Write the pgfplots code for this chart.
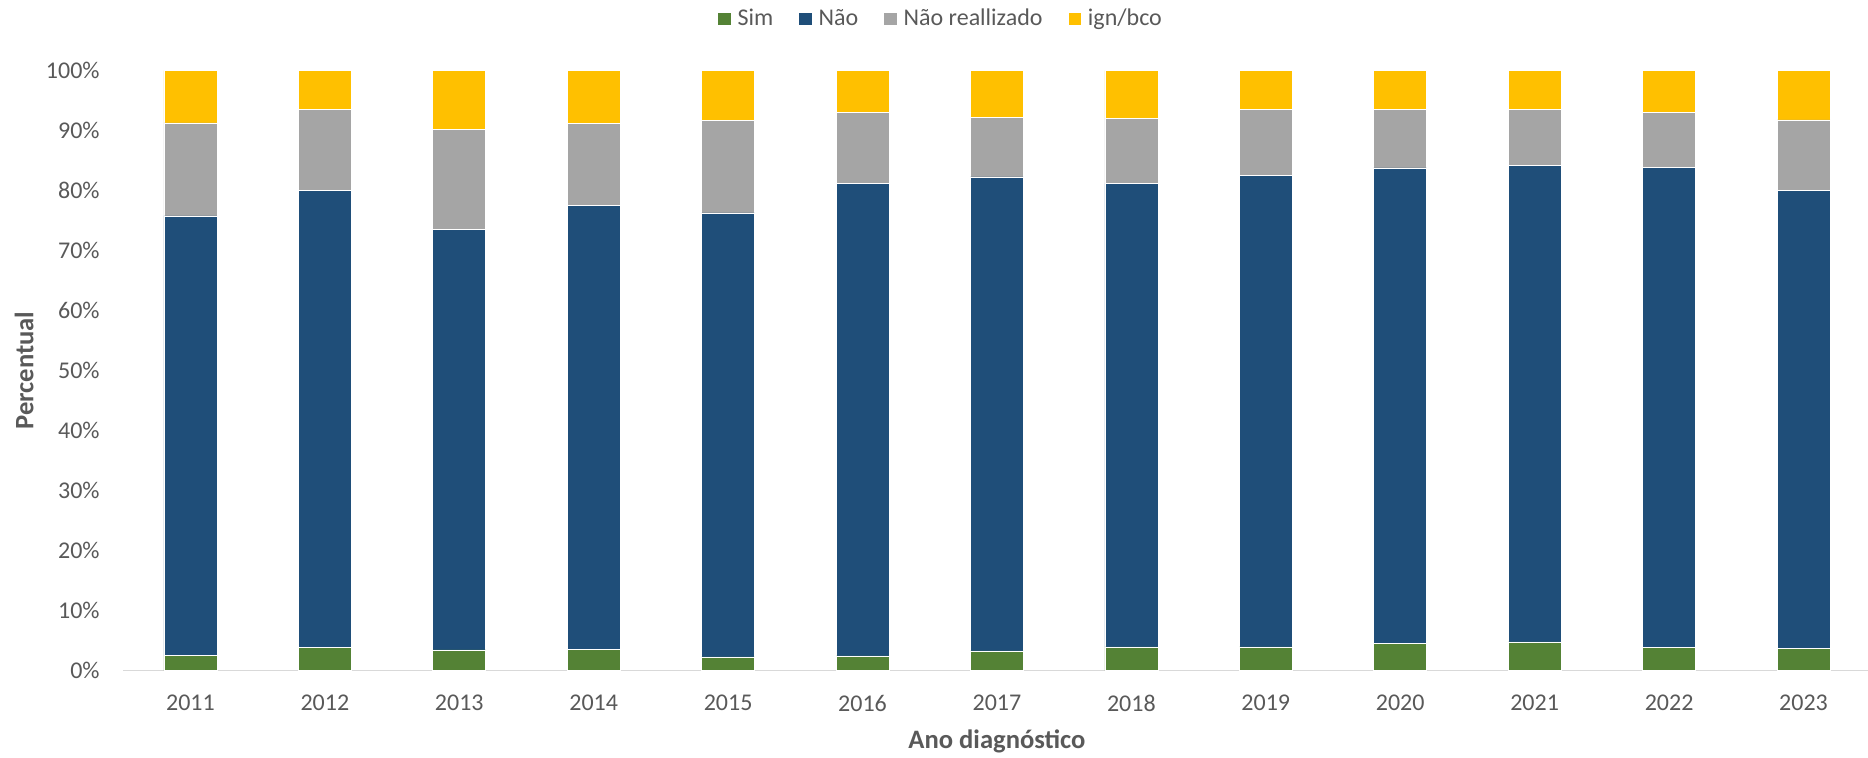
\documentclass[border=0pt]{standalone}
\usepackage{fontspec}
\setmainfont{Carlito}
\usepackage{pgfplots}
\pgfplotsset{compat=1.18}
\usepackage{pgfplotstable}
\definecolor{simc}{HTML}{548235}
\definecolor{naoc}{HTML}{1F4E79}
\definecolor{nrc}{HTML}{A5A5A5}
\definecolor{ignc}{HTML}{FFC000}
\definecolor{txt}{HTML}{595959}
\definecolor{axl}{HTML}{D9D9D9}
\pgfplotstableread{
x sim nao nr ign
0 2.6 73.2 15.5 8.7
1 3.9 76.1 13.6 6.4
2 3.45 70.05 16.7 9.8
3 3.55 73.95 13.7 8.8
4 2.3 74.0 15.4 8.3
5 2.45 78.75 11.9 6.9
6 3.3 79.0 9.9 7.8
7 3.95 77.25 10.9 7.9
8 3.95 78.55 11.1 6.4
9 4.6 79.2 9.7 6.5
10 4.8 79.4 9.4 6.4
11 3.9 80.0 9.1 7.0
12 3.7 76.3 11.8 8.2
}\data
\begin{document}
\begin{tikzpicture}
\begin{axis}[
  scale only axis, width=873.75pt, height=300pt,
  xmin=-0.5, xmax=12.5, ymin=0, ymax=100,
  ybar stacked, bar width=26.5pt,
  axis x line*=bottom, axis y line*=left,
  x axis line style={draw=axl, line width=0.8pt, -},
  y axis line style={draw=none},
  major tick length=0pt,
  xtick={0,...,12},
  xticklabels={2011,2012,2013,2014,2015,2016,2017,2018,2019,2020,2021,2022,2023},
  ytick={0,10,...,100},
  yticklabels={0\%,10\%,20\%,30\%,40\%,50\%,60\%,70\%,80\%,90\%,100\%},
  xticklabel style={font=\fontsize{12}{14}\selectfont, text=txt, inner sep=0pt, anchor=north, yshift=-12pt},
  yticklabel style={font=\fontsize{12}{14}\selectfont, text=txt, inner sep=0pt, anchor=east, xshift=-11.6pt},
  xlabel={Ano diagnóstico},
  ylabel={Percentual},
  xlabel style={font=\fontsize{13.3}{15}\selectfont\bfseries, text=txt, at={(axis description cs:0.5,-0.1173)}, anchor=center},
  ylabel style={font=\fontsize{13.3}{15}\selectfont\bfseries, text=txt, at={(axis description cs:-0.0567,0.5)}, anchor=center},
  legend columns=4,
  legend style={draw=none, fill=none, at={(axis description cs:0.4674,1.0863)}, anchor=center,
    font=\fontsize{12}{14}\selectfont, text=txt, column sep=3.5pt,
    /tikz/every even column/.append style={column sep=13pt}, nodes={inner sep=0pt}},
  legend image code/.code={\path[#1, draw=none] (0pt,-3.1pt) rectangle (6.2pt,3.1pt);},
  every axis plot/.append style={draw=white, line width=0.3pt},
]
\addplot[fill=simc] table[x=x, y=sim] {\data};
\addplot[fill=naoc] table[x=x, y=nao] {\data};
\addplot[fill=nrc] table[x=x, y=nr] {\data};
\addplot[fill=ignc] table[x=x, y=ign] {\data};
\legend{Sim, Não, Não reallizado, ign/bco}
\end{axis}
\pgfresetboundingbox
\path ([xshift=-61.6pt,yshift=-43.65pt]current axis.south west) rectangle ([xshift=-1.35pt,yshift=35.35pt]current axis.north east);
\end{tikzpicture}
\end{document}
